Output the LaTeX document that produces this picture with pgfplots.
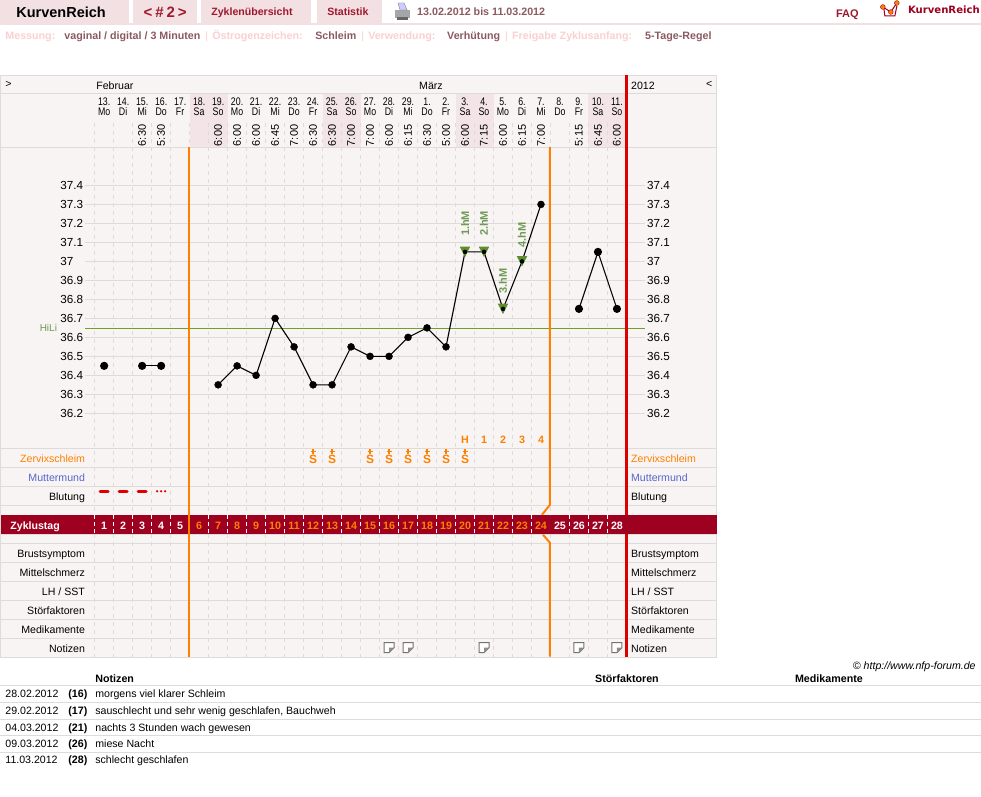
\documentclass[border=0pt]{standalone}
\usepackage{pgfplots}
\pgfplotsset{compat=1.18}
\usepackage{fontspec}
\setmainfont{Liberation Sans}
\newfontfamily\narrow[FakeStretch=0.8]{Liberation Sans}
\newfontfamily\logofont{DejaVu Sans}
\newcommand\fs[1]{\fontsize{#1}{#1}\selectfont}
\definecolor{bgc}{HTML}{F9F4F4}
\definecolor{wkc}{HTML}{F3E5E7}
\definecolor{hdc}{HTML}{F3E0E2}
\definecolor{linec}{HTML}{DEDBDB}
\definecolor{navc}{HTML}{A0182E}
\definecolor{mutec}{HTML}{8B5A60}
\definecolor{palec}{HTML}{FAD0D0}
\definecolor{orc}{HTML}{FF8000}
\definecolor{redc}{HTML}{DD0000}
\definecolor{bandc}{HTML}{9E0020}
\definecolor{grn}{HTML}{6FA02A}
\definecolor{grntri}{HTML}{5E8E2C}
\definecolor{grnt}{HTML}{6E9A54}
\definecolor{blu}{HTML}{5566CC}
\tikzset{
 t/.style={inner sep=0,anchor=base west,font=\fs{10.6},yshift=-1pt},
 r/.style={inner sep=0,anchor=base east,font=\fs{10.6},yshift=-1pt},
 c/.style={inner sep=0,anchor=base,font=\fs{10.6},yshift=-1pt},
}
\pgfdeclareplotmark{zerv}{%
 \pgfsetcolor{orc}\pgfsetlinewidth{1.3pt}%
 \pgfpathmoveto{\pgfpoint{-2.5pt}{6pt}}\pgfpathlineto{\pgfpoint{2.5pt}{6pt}}%
 \pgfpathmoveto{\pgfpoint{0pt}{3.5pt}}\pgfpathlineto{\pgfpoint{0pt}{8.5pt}}%
 \pgfusepath{stroke}%
 \pgftext[base,at={\pgfpoint{0pt}{-6pt}}]{\fs{12}\bfseries\textcolor{orc}{S}}%
}
\pgfdeclareplotmark{hmtri}{%
 \pgfpathmoveto{\pgfpoint{-5.2pt}{5.2pt}}\pgfpathlineto{\pgfpoint{5.2pt}{5.2pt}}\pgfpathlineto{\pgfpoint{0pt}{-5.2pt}}\pgfpathclose\pgfusepath{fill}%
}
\pgfdeclareplotmark{bldash}{%
 \pgfsetcolor{redc}\pgfsetlinewidth{3pt}\pgfsetroundcap
 \pgfpathmoveto{\pgfpoint{-4pt}{0pt}}\pgfpathlineto{\pgfpoint{4pt}{0pt}}\pgfusepath{stroke}%
}
\pgfdeclareplotmark{bldots}{%
 \pgfsetcolor{redc}%
 \pgfpathcircle{\pgfpoint{-4pt}{0pt}}{1.3pt}\pgfpathcircle{\pgfpoint{0pt}{0pt}}{1.3pt}\pgfpathcircle{\pgfpoint{4pt}{0pt}}{1.3pt}%
 \pgfusepath{fill}%
}
\pgfdeclareplotmark{note}{%
 \pgfsetstrokecolor{black!55}\pgfsetfillcolor{white}\pgfsetlinewidth{1pt}%
 \pgfpathmoveto{\pgfpoint{-5pt}{5pt}}\pgfpathlineto{\pgfpoint{5pt}{5pt}}\pgfpathlineto{\pgfpoint{5pt}{0pt}}%
 \pgfpathlineto{\pgfpoint{0pt}{-5pt}}\pgfpathlineto{\pgfpoint{-5pt}{-5pt}}\pgfpathclose\pgfusepath{fill,stroke}%
 \pgfsetfillcolor{black!45}%
 \pgfpathmoveto{\pgfpoint{5pt}{0pt}}\pgfpathlineto{\pgfpoint{0pt}{-5pt}}\pgfpathlineto{\pgfpoint{0pt}{0pt}}\pgfpathclose\pgfusepath{fill}%
}
\begin{document}
\begin{tikzpicture}
\begin{scope}[x=1pt,y=-1pt,yshift=797pt]
\fill[white] (0,0) rectangle (981,797);
% header
\fill[hdc] (0,0) rectangle (128.5,23);
\fill[hdc] (133,0) rectangle (197,23);
\fill[hdc] (201,0) rectangle (311,23);
\fill[hdc] (317,0) rectangle (382,23);
\fill[hdc] (0,23) rectangle (981,25);
\node[t,font=\fs{14.5}\bfseries] at (16,17) {KurvenReich};
\node[c,font=\fs{15}\bfseries,text=navc] at (165,17) {<\kern3pt\#\kern3pt 2\kern3pt>};
\node[t,font=\fs{10.6}\bfseries,text=navc] at (211,15) {Zyklenübersicht};
\node[t,font=\fs{10.6}\bfseries,text=navc] at (327,15) {Statistik};
\node[t,font=\fs{10.7}\bfseries,text=mutec] at (417,15) {13.02.2012 bis 11.03.2012};
\node[t,font=\fs{11}\bfseries,text=navc] at (836,17) {FAQ};
\node[t,font=\fs{10.1}\logofont\bfseries,text=bandc] at (908,13) {KurvenReich};
% printer
\fill[black!35] (395,10) rectangle (410,18);
\fill[black!60] (397,17) rectangle (408,20);
\fill[blue!20!white,draw=black!50] (398,3) -- (404,3) -- (407,10) -- (400,10) -- cycle;
% logo
\draw[bandc,line width=1pt] (884,8) -- (885,16) -- (895,16) -- (897,6);
\draw[bandc,line width=1pt] (883,7) -- (891,12) -- (897,3);
\fill[orc,draw=bandc] (883,7) circle (2.4);
\fill[orc,draw=bandc] (891,12) circle (2.4);
\fill[orc,draw=bandc] (897,3) circle (2.4);
% line 2
\foreach \x/\s in {5/Messung:,212/Östrogenzeichen:,368/Verwendung:,512/{Freigabe Zyklusanfang:}}
 \node[t,font=\fs{10.7}\bfseries,text=palec] at (\x,39) {\s};
\foreach \x/\s in {64/{vaginal / digital / 3 Minuten},315/Schleim,447/Verhütung,645/5-Tage-Regel}
 \node[t,font=\fs{10.7}\bfseries,text=mutec] at (\x,39) {\s};
\foreach \x in {205,361,505}
 \node[t,text=palec] at (\x,39) {|};
% table background
\fill[bgc] (0,75) rectangle (717,657.5);
\foreach \d in {6,7,13,14,20,21,27,28}
 \fill[wkc] ({94.5+19*(\d-1)},94) rectangle ({94.5+19*\d},147);
% horizontals
\foreach \y in {93.5,147.5,448.5,467.5,486.5,505.5,534.5,543.5,562.5,581.5,600.5,619.5,638.5}
 \draw[linec] (0,\y) -- (717,\y);
\draw[linec] (0.5,75.5) rectangle (716.5,657.5);
% band
\fill[bandc] (0.5,515) rectangle (717,534);
% dashes
\foreach \k in {0,...,27}{
 \draw[linec,dash pattern=on 4pt off 4pt] ({94.5+19*\k},123) -- ({94.5+19*\k},515);
 \draw[linec,dash pattern=on 4pt off 4pt] ({94.5+19*\k},534) -- ({94.5+19*\k},657);
}
\foreach \k in {0,...,23}
 \draw[white,dash pattern=on 4pt off 3pt] ({94.5+19*\k},515) -- ({94.5+19*\k},534);
\foreach \k in {25,26,27}
 \draw[white,dash pattern=on 4pt off 3pt] ({94.5+19*\k},515) -- ({94.5+19*\k},534);
\end{scope}
% temperature axis
\begin{axis}[at={(85pt,348.5pt)},anchor=south west,scale only axis,width=560pt,height=300.5pt,
 xmin=0,xmax=29.4737,ymin=36.0158,ymax=37.5974,clip=false,
 xtick=\empty,ytick={36.2,36.3,36.4,36.5,36.6,36.7,36.8,36.9,37,37.1,37.2,37.3,37.4},
 ymajorgrids,grid style={linec,line width=1pt},
 axis line style={draw=none},major tick length=0pt,ticklabel pos=left,
 yticklabel style={anchor=west,inner xsep=0pt,xshift=-25pt,font=\fs{11.7}},
 /pgf/number format/.cd,fixed,precision=1,assume math mode=true]
\addplot[color=grn,line width=1pt,forget plot] coordinates {(0,36.648) (29.4737,36.648)};
% hM triangles
\addplot[only marks,mark=hmtri,color=grntri] coordinates {(20,37.05) (21,37.05) (22,36.75) (23,37.0)};
% curve
\addplot[black,line width=1.1pt,mark=*,mark size=3.5pt] coordinates {(1,36.45)};
\addplot[black,line width=1.1pt,mark=*,mark size=3.5pt] coordinates {(3,36.45) (4,36.45)};
\addplot[black,line width=1.1pt,mark=none] coordinates {(7,36.35) (8,36.45) (9,36.4) (10,36.7) (11,36.55) (12,36.35) (13,36.35) (14,36.55) (15,36.5) (16,36.5) (17,36.6) (18,36.65) (19,36.55) (20,37.05) (21,37.05) (22,36.75) (23,37.0) (24,37.3)};
\addplot[only marks,mark=*,mark size=3.5pt,black] coordinates {(7,36.35) (8,36.45) (9,36.4) (10,36.7) (11,36.55) (12,36.35) (13,36.35) (14,36.55) (15,36.5) (16,36.5) (17,36.6) (18,36.65) (19,36.55) (24,37.3)};
\addplot[only marks,mark=*,mark size=2pt,black] coordinates {(20,37.05) (21,37.05) (22,36.75) (23,37.0)};
\addplot[black,line width=1.1pt,mark=*,mark size=3.5pt] coordinates {(26,36.75) (27,37.05) (28,36.75)};
\node[rotate=90,inner sep=0,font=\fs{11}\bfseries,text=grnt] at (axis cs:20,37.2) {1.hM};
\node[rotate=90,inner sep=0,font=\fs{11}\bfseries,text=grnt] at (axis cs:21,37.2) {2.hM};
\node[rotate=90,inner sep=0,font=\fs{11}\bfseries,text=grnt] at (axis cs:22,36.895) {3.hM};
\node[rotate=90,inner sep=0,font=\fs{11}\bfseries,text=grnt] at (axis cs:23,37.14) {4.hM};
\end{axis}
% right tick labels
\begin{axis}[at={(85pt,348.5pt)},anchor=south west,scale only axis,width=560pt,height=300.5pt,
 xmin=0,xmax=29.4737,ymin=36.0158,ymax=37.5974,
 xtick=\empty,ytick={36.2,36.3,36.4,36.5,36.6,36.7,36.8,36.9,37,37.1,37.2,37.3,37.4},
 axis line style={draw=none},major tick length=0pt,ticklabel pos=right,
 yticklabel style={anchor=west,inner xsep=0pt,xshift=2pt,font=\fs{11.7}},
 /pgf/number format/.cd,fixed,precision=1,assume math mode=true]
\addplot[draw=none,forget plot] coordinates {(0,36.65)};
\end{axis}
% event rows: pixel y, day x
\begin{axis}[at={(85pt,0pt)},anchor=south west,scale only axis,width=560pt,height=797pt,
 xmin=0,xmax=29.4737,ymin=0,ymax=797,y dir=reverse,clip=false,axis lines=none]
\addplot[only marks,mark=zerv] coordinates {(12,458) (13,458) (15,458) (16,458) (17,458) (18,458) (19,458) (20,458)};
\addplot[only marks,mark=bldash] coordinates {(1,491.5) (2,491.5) (3,491.5)};
\addplot[only marks,mark=bldots] coordinates {(4,491.5)};
\addplot[only marks,mark=note] coordinates {(16,648) (17,648) (21,648) (26,648) (28,648)};
\end{axis}
% overlay
\begin{scope}[x=1pt,y=-1pt,yshift=797pt]
\draw[orc,line width=2pt] (189,147) -- (189,657);
\draw[orc,line width=2pt] (550,147) -- (550,505) -- (542,515);
\draw[orc,line width=2pt] (543,535) -- (550,543) -- (550,657);
\draw[redc,line width=3pt] (626.5,75) -- (626.5,515);
\draw[redc,line width=3pt] (626.5,534) -- (626.5,657);
% header text
\node[t] at (5,87) {>};
\node[t] at (96,89) {Februar};
\node[t] at (419,89) {März};
\node[t] at (631,89) {2012};
\node[t] at (706,87) {<};
\foreach \k/\a/\b in {1/13./Mo,2/14./Di,3/15./Mi,4/16./Do,5/17./Fr,6/18./Sa,7/19./So,8/20./Mo,9/21./Di,10/22./Mi,11/23./Do,12/24./Fr,13/25./Sa,14/26./So,15/27./Mo,16/28./Di,17/29./Mi,18/1./Do,19/2./Fr,20/3./Sa,21/4./So,22/5./Mo,23/6./Di,24/7./Mi,25/8./Do,26/9./Fr,27/10./Sa,28/11./So}{
 \node[c,font=\fs{11}\narrow] at ({85+19*\k},104.5) {\a};
 \node[c,font=\fs{11}\narrow] at ({85+19*\k},114.5) {\b};
}
\foreach \k/\a in {3/6:30,4/5:30,7/6:00,8/6:00,9/6:00,10/6:45,11/7:00,12/6:30,13/6:30,14/7:00,15/7:00,16/6:00,17/6:15,18/6:30,19/5:00,20/6:00,21/7:15,22/6:00,23/6:15,24/7:00,26/5:15,27/6:45,28/6:00}
 \node[inner sep=0,rotate=90,font=\fs{11}] at ({85+19*\k},135.5) {\a};
\node[r,font=\fs{10},text=grnt] at (57,330.5) {HiLi};
\foreach \k/\s in {20/H,21/1,22/2,23/3,24/4}
 \node[c,font=\fs{10.7}\bfseries,text=orc] at ({85+19*\k},442.5) {\s};
% row labels
\foreach \y/\s/\cc in {462/Zervixschleim/orc,481/Muttermund/blu,500/Blutung/black,557/Brustsymptom/black,576/Mittelschmerz/black,595/{LH / SST}/black,614/Störfaktoren/black,633/Medikamente/black,652/Notizen/black}{
 \node[r,text=\cc] at (85,\y) {\s};
 \node[t,text=\cc] at (631,\y) {\s};
}
% band text
\node[t,font=\fs{10.6}\bfseries,text=white] at (10,529) {Zyklustag};
\foreach \k in {1,...,28}{
 \pgfmathparse{(\k>5 && \k<25) ? "orc" : "white"}
 \edef\cc{\pgfmathresult}
 \node[c,font=\fs{10.7}\bfseries,text=\cc] at ({85+19*\k},529) {\k};
}
% bottom
\node[r,font=\fs{10.6}\itshape] at (976,669) {© http://www.nfp-forum.de};
\node[t,font=\fs{10.7}\bfseries] at (95,682) {Notizen};
\node[t,font=\fs{10.7}\bfseries] at (595,682) {Störfaktoren};
\node[t,font=\fs{10.7}\bfseries] at (795,682) {Medikamente};
\foreach \y in {685.5,702,719.5,736,752.5}
 \draw[linec] (0,\y) -- (981,\y);
\foreach \y/\a/\b/\s in {697/28.02.2012/(16)/morgens viel klarer Schleim,714/29.02.2012/(17)/{sauschlecht und sehr wenig geschlafen, Bauchweh},731/04.03.2012/(21)/nachts 3 Stunden wach gewesen,747/09.03.2012/(26)/miese Nacht,763/11.03.2012/(28)/schlecht geschlafen}{
 \node[t] at (5,\y) {\a};
 \node[t,font=\fs{10.7}\bfseries] at (68,\y) {\b};
 \node[t] at (95,\y) {\s};
}
\end{scope}
\end{tikzpicture}
\end{document}
